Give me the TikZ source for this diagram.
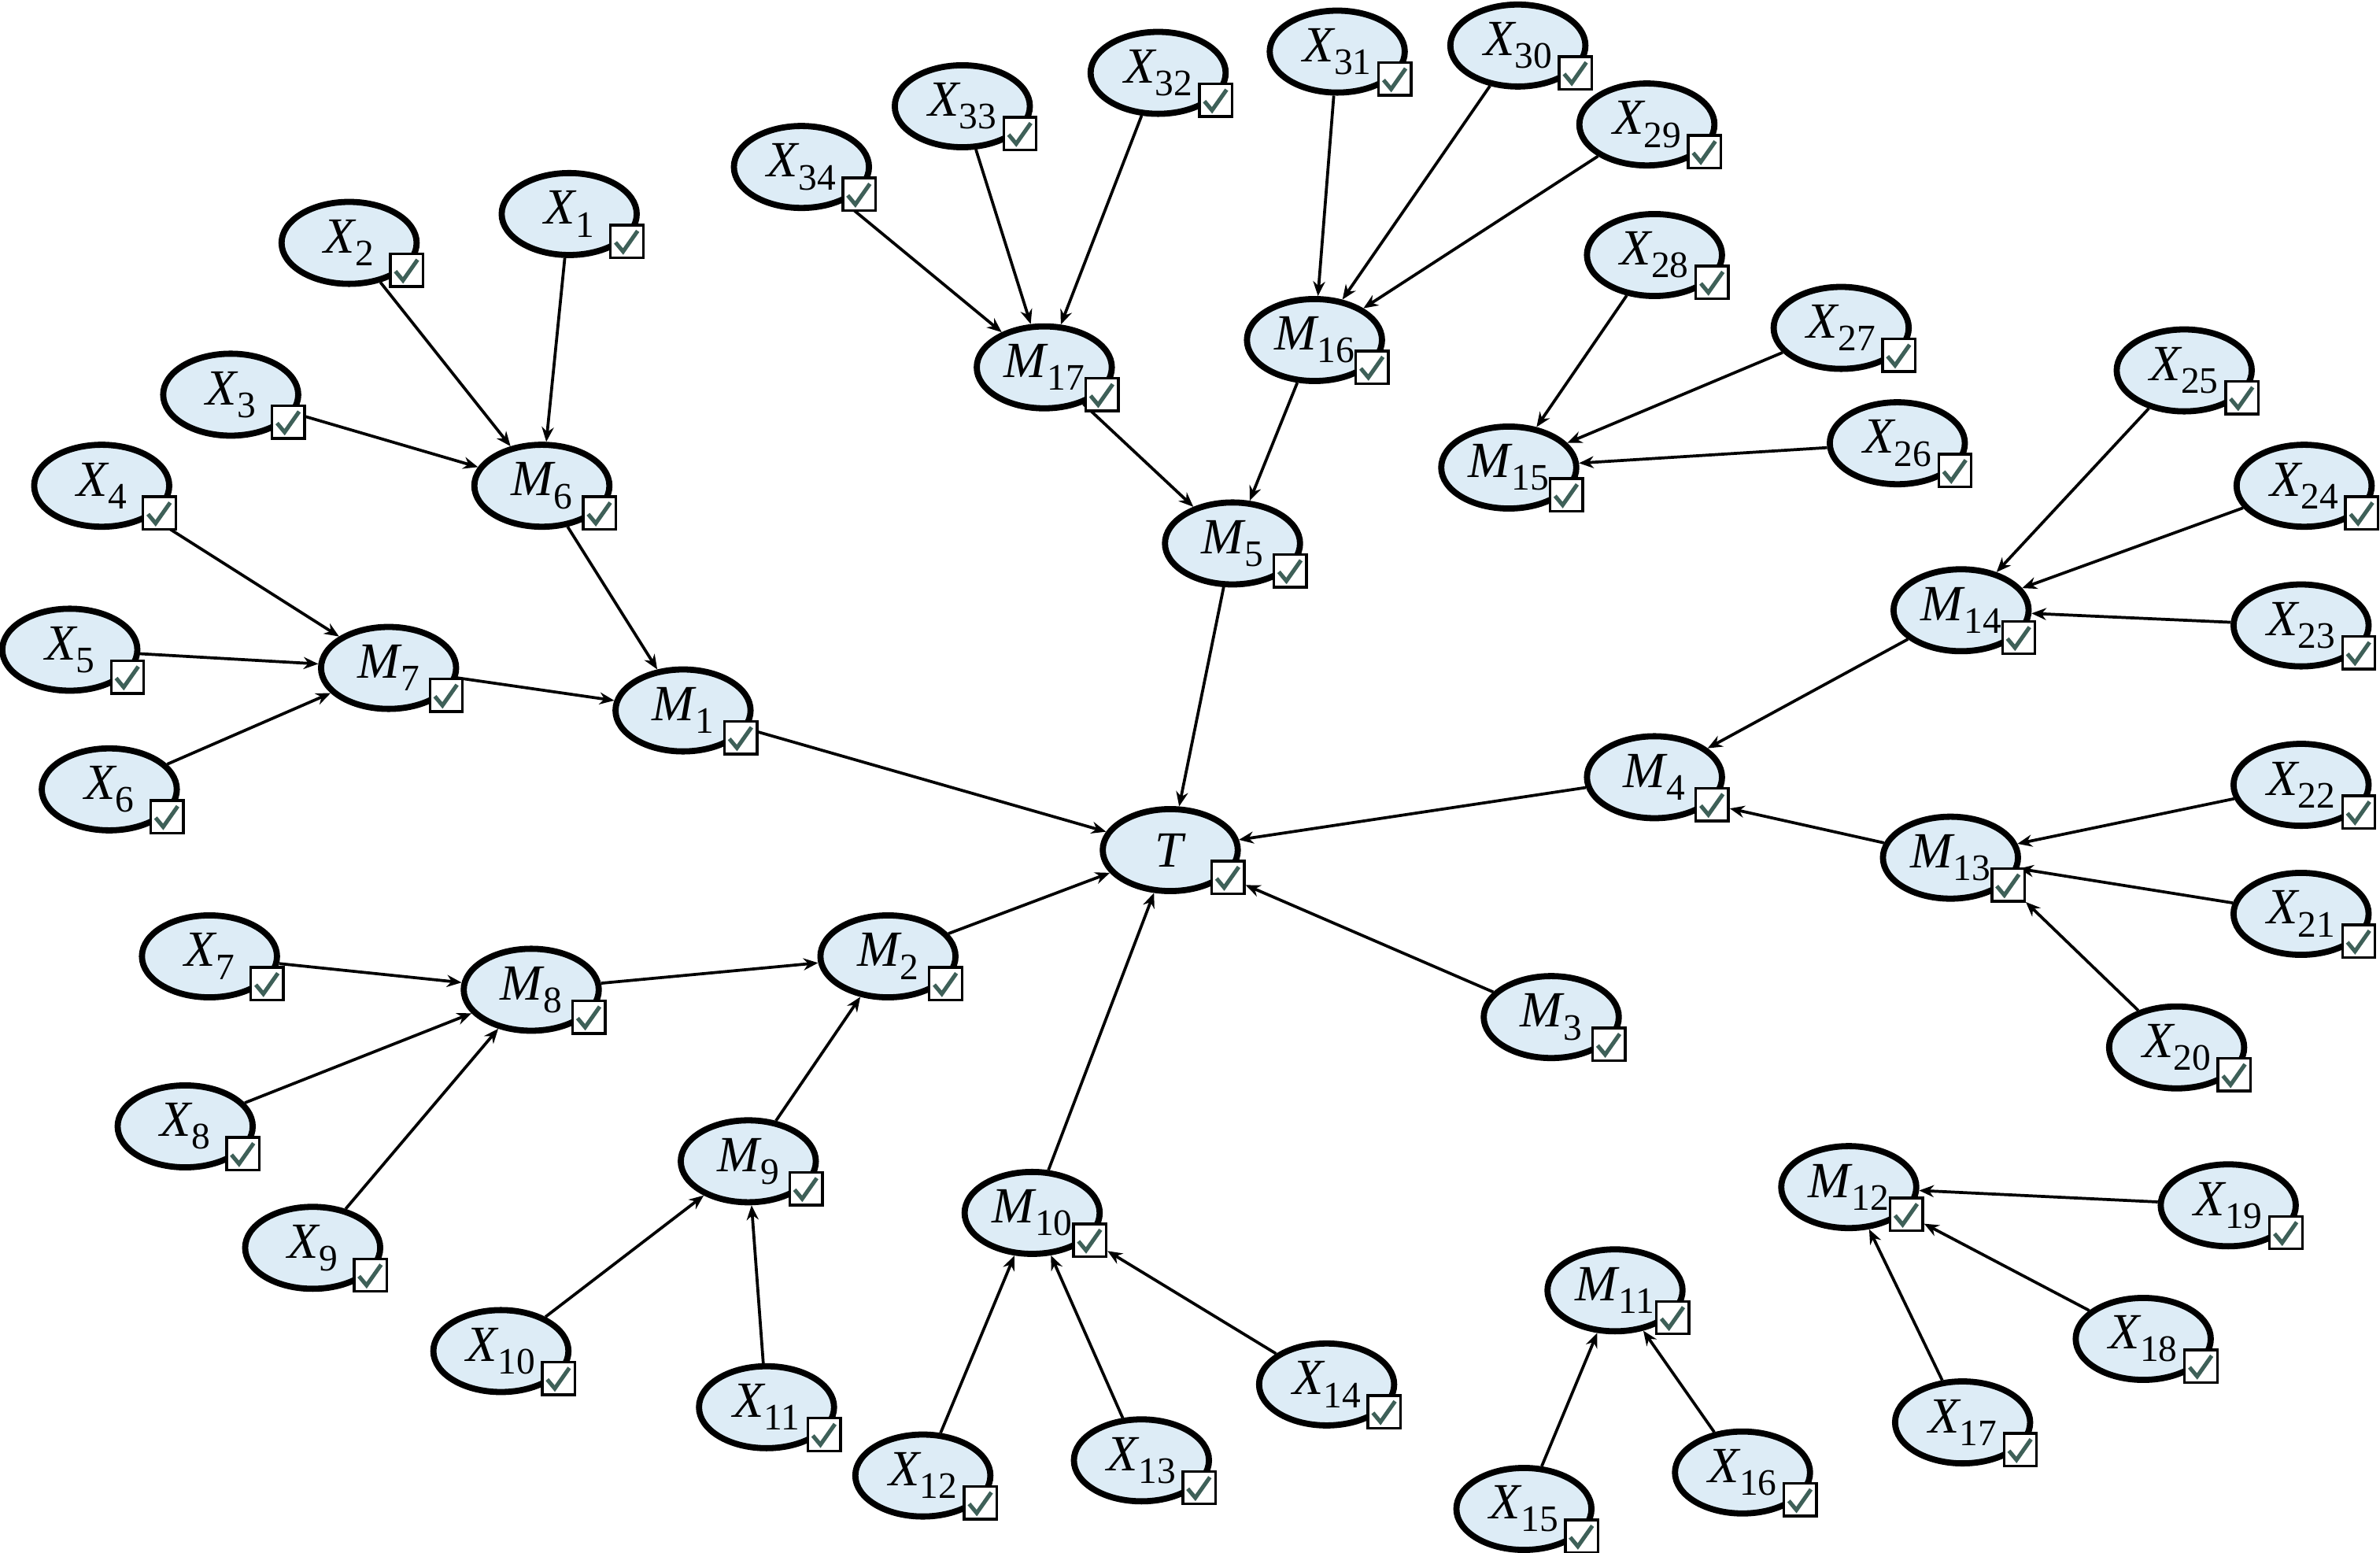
\documentclass[tikz,border=0pt]{standalone}
\usepackage{fontspec}
\setmainfont{Liberation Serif}
\usetikzlibrary{arrows.meta,shapes.geometric}
\definecolor{nodeblue}{RGB}{221,236,246}
\definecolor{tickgreen}{RGB}{62,96,88}
\newcommand{\vlab}[2]{\textit{#1}\kern-0.03em\raisebox{-0.55ex}{\fontsize{14}{14}\selectfont #2}}

\begin{document}
\begin{tikzpicture}[x=0.02cm, y=-0.02cm,
    var/.style={ellipse, draw, line width=2.3pt, fill=nodeblue, minimum width=1.78cm, minimum height=1.08cm, inner sep=0pt, font=\fontsize{19}{22}\selectfont},
    chk/.style={rectangle, draw, line width=1pt, fill=white, minimum size=0.43cm, inner sep=0pt,
        path picture={\draw[tickgreen, line width=1.5pt] ([shift={(-7.5,0.7)}]path picture bounding box.center) -- ++(5,6) -- ++(9.6,-13.6);}},
    arr/.style={line width=1.1pt, -{Stealth[length=5.5pt, width=4.5pt]}}]
    \useasboundingbox (0,0) rectangle (1568,1023);

    % target
    \node(t) [var] at (771,560) {\textit{T}};
    % intermediate nodes
    \node(m1) [var] at (450,468) {\vlab{M}{1}};
    \node(m2) [var] at (585,630) {\vlab{M}{2}};
    \node(m3) [var] at (1022,670) {\vlab{M}{3}};
    \node(m4) [var] at (1090,512) {\vlab{M}{4}};
    \node(m5) [var] at (812,358) {\vlab{M}{5}};
    \node(m6) [var] at (357,320) {\vlab{M}{6}};
    \node(m7) [var] at (256,440) {\vlab{M}{7}};
    \node(m8) [var] at (350,652) {\vlab{M}{8}};
    \node(m9) [var] at (493,765) {\vlab{M}{9}};
    \node(m10) [var] at (680,799) {\vlab{M}{10}};
    \node(m11) [var] at (1064,850) {\vlab{M}{11}};
    \node(m12) [var] at (1218,782) {\vlab{M}{12}};
    \node(m13) [var] at (1285,565) {\vlab{M}{13}};
    \node(m14) [var] at (1292,402) {\vlab{M}{14}};
    \node(m15) [var] at (994,308) {\vlab{M}{15}};
    \node(m16) [var] at (866,224) {\vlab{M}{16}};
    \node(m17) [var] at (688,242) {\vlab{M}{17}};
    % inputs
    \node(x1) [var] at (375,141) {\vlab{X}{1}};
    \node(x2) [var] at (230,160) {\vlab{X}{2}};
    \node(x3) [var] at (152,260) {\vlab{X}{3}};
    \node(x4) [var] at (67,320) {\vlab{X}{4}};
    \node(x5) [var] at (46,428) {\vlab{X}{5}};
    \node(x6) [var] at (72,520) {\vlab{X}{6}};
    \node(x7) [var] at (138,630) {\vlab{X}{7}};
    \node(x8) [var] at (122,742) {\vlab{X}{8}};
    \node(x9) [var] at (206,822) {\vlab{X}{9}};
    \node(x10) [var] at (330,890) {\vlab{X}{10}};
    \node(x11) [var] at (505,927) {\vlab{X}{11}};
    \node(x12) [var] at (608,972) {\vlab{X}{12}};
    \node(x13) [var] at (752,962) {\vlab{X}{13}};
    \node(x14) [var] at (874,912) {\vlab{X}{14}};
    \node(x15) [var] at (1004,994) {\vlab{X}{15}};
    \node(x16) [var] at (1148,970) {\vlab{X}{16}};
    \node(x17) [var] at (1293,937) {\vlab{X}{17}};
    \node(x18) [var] at (1412,882) {\vlab{X}{18}};
    \node(x19) [var] at (1468,794) {\vlab{X}{19}};
    \node(x20) [var] at (1434,690) {\vlab{X}{20}};
    \node(x21) [var] at (1516,602) {\vlab{X}{21}};
    \node(x22) [var] at (1516,517) {\vlab{X}{22}};
    \node(x23) [var] at (1516,412) {\vlab{X}{23}};
    \node(x24) [var] at (1518,320) {\vlab{X}{24}};
    \node(x25) [var] at (1439,244) {\vlab{X}{25}};
    \node(x26) [var] at (1250,292) {\vlab{X}{26}};
    \node(x27) [var] at (1213,216) {\vlab{X}{27}};
    \node(x28) [var] at (1090,168) {\vlab{X}{28}};
    \node(x29) [var] at (1085,82) {\vlab{X}{29}};
    \node(x30) [var] at (1000,30) {\vlab{X}{30}};
    \node(x31) [var] at (881,34) {\vlab{X}{31}};
    \node(x32) [var] at (763,48) {\vlab{X}{32}};
    \node(x33) [var] at (634,70) {\vlab{X}{33}};
    \node(x34) [var] at (528,110) {\vlab{X}{34}};

    \draw[arr]
    (x1) edge (m6) (x2) edge (m6) (x3) edge (m6)
    (x4) edge (m7) (x5) edge (m7) (x6) edge (m7)
    (m6) edge (m1) (m7) edge (m1) (m1) edge (t)
    (x7) edge (m8) (x8) edge (m8) (x9) edge (m8)
    (x10) edge (m9) (x11) edge (m9)
    (m8) edge (m2) (m9) edge (m2) (m2) edge (t)
    (x12) edge (m10) (x13) edge (m10) (m10) edge (t)
    (x34) edge (m17) (x33) edge (m17) (x32) edge (m17)
    (x31) edge (m16) (x30) edge (m16) (x29) edge (m16)
    (m17) edge (m5) (m16) edge (m5) (m5) edge (t)
    (x28) edge (m15) (x27) edge (m15) (x26) edge (m15)
    (x25) edge (m14) (x24) edge (m14) (x23) edge (m14)
    (x22) edge (m13) (x21) edge (m13)
    (m14) edge (m4) (m4) edge (t)
    (x19) edge (m12) (x17) edge (m12)
    (x15) edge (m11) (x16) edge (m11);

    % check boxes
    \foreach \n in {t,m1,m2,m3,m4,m5,m6,m7,m8,m9,m10,m11,m12,m13,m14,m15,m16,m17}
        \node(\n c) [chk] at ([shift={(38,18)}]\n.center) {};
    \foreach \i in {1,...,34}
        \node(x\i c) [chk] at ([shift={(38,18)}]x\i.center) {};

    % arrows that end on a check box
    \draw[arr]
    (m3) edge (tc) (x14) edge (m10c) (m13) edge (m4c)
    (x20) edge (m13c) (x18) edge (m12c);
\end{tikzpicture}
\end{document}
